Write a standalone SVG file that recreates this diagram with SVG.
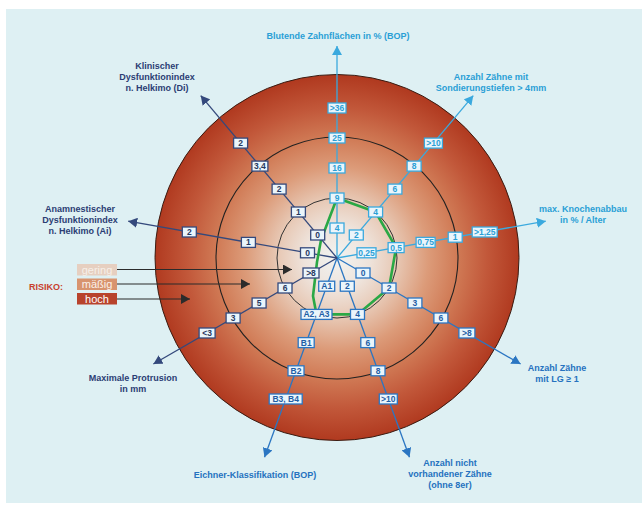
<svg xmlns="http://www.w3.org/2000/svg" width="642" height="507" viewBox="0 0 642 507">
<defs>
<radialGradient id="rg" gradientUnits="userSpaceOnUse" cx="337" cy="258" r="183">
<stop offset="0" stop-color="#f1f3f1"/>
<stop offset="0.18" stop-color="#eee3db"/>
<stop offset="0.33" stop-color="#e7c7b3"/>
<stop offset="0.5" stop-color="#dc9b79"/>
<stop offset="0.66" stop-color="#d07a55"/>
<stop offset="0.82" stop-color="#c2583a"/>
<stop offset="1" stop-color="#b0391f"/>
</radialGradient>
<marker id="mlb" viewBox="0 0 9 10" refX="9" refY="5" markerWidth="9" markerHeight="10" markerUnits="userSpaceOnUse" orient="auto"><path d="M0,0 L9,5 L0,10 z" fill="#3aa9de"/></marker>
<marker id="mmb" viewBox="0 0 9 10" refX="9" refY="5" markerWidth="9" markerHeight="10" markerUnits="userSpaceOnUse" orient="auto"><path d="M0,0 L9,5 L0,10 z" fill="#2b76c2"/></marker>
<marker id="mnv" viewBox="0 0 9 10" refX="9" refY="5" markerWidth="9" markerHeight="10" markerUnits="userSpaceOnUse" orient="auto"><path d="M0,0 L9,5 L0,10 z" fill="#34497c"/></marker>
<marker id="mdk" viewBox="0 0 9 10" refX="9" refY="5" markerWidth="9" markerHeight="10" markerUnits="userSpaceOnUse" orient="auto"><path d="M0,0 L9,5 L0,10 z" fill="#2b2b2b"/></marker>
</defs>
<style>
.t{font-family:"Liberation Sans",Arial,sans-serif;font-weight:bold;font-size:9px;text-anchor:middle}
.tlb{fill:#2a9fd6}.tmb{fill:#2572bf}.tnv{fill:#2b3d73}
.ax{stroke-width:1.3;fill:none}
.alb{stroke:#3aa9de;marker-end:url(#mlb)}
.amb{stroke:#2b76c2;marker-end:url(#mmb)}
.anv{stroke:#34497c;marker-end:url(#mnv)}
.adk{stroke:#2b2b2b;stroke-width:1.1;marker-end:url(#mdk)}
.b rect{fill:#eaf5fb;stroke-width:1.3}
.b text{font-family:"Liberation Sans",Arial,sans-serif;font-weight:bold;font-size:8.5px;text-anchor:middle}
.blb rect{stroke:#3aa9de}.blb text{fill:#2a9fd6}
.bmb rect{stroke:#2b76c2}.bmb text{fill:#1f5ea6}
.bnv rect{stroke:#34497c}.bnv text{fill:#26385f}
.leg text{font-family:"Liberation Sans",Arial,sans-serif;font-size:11px;text-anchor:middle}
</style>
<rect x="0" y="0" width="642" height="507" fill="#ffffff"/>
<rect x="6" y="9" width="636" height="494" fill="#def0f3"/>
<g id="chart">
<ellipse cx="337" cy="257.5" rx="182" ry="183" fill="url(#rg)" stroke="#3a1c12" stroke-width="1"/>
<circle cx="337" cy="258" r="121" fill="none" stroke="#222" stroke-width="1.1"/>
<circle cx="337" cy="258" r="60" fill="none" stroke="#333" stroke-width="1"/>
</g>
<g id="connectors">
<line class="ax adk" x1="117" y1="269.5" x2="292" y2="269.5"/>
<line class="ax adk" x1="117" y1="284" x2="250" y2="284"/>
<line class="ax adk" x1="117" y1="299" x2="190" y2="299"/>
<line class="ax alb" x1="337" y1="258" x2="337" y2="46"/>
<line class="ax alb" x1="337" y1="258" x2="473.3" y2="95.6"/>
<line class="ax alb" x1="337" y1="258" x2="545.8" y2="221.2"/>
<line class="ax amb" x1="337" y1="258" x2="520.6" y2="364"/>
<line class="ax amb" x1="337" y1="258" x2="409.5" y2="457.2"/>
<line class="ax amb" x1="337" y1="258" x2="264.5" y2="457.2"/>
<line class="ax anv" x1="337" y1="258" x2="153.4" y2="364"/>
<line class="ax anv" x1="337" y1="258" x2="128.2" y2="221.2"/>
<line class="ax anv" x1="337" y1="258" x2="200.7" y2="95.6"/>
<polygon id="profile" points="337,198 375.6,212 396.1,247.6 389,288 357.5,314.4 316.5,314.4 313,296 317,262 321,240" fill="none" stroke="#2aa845" stroke-width="2.6" stroke-linejoin="round"/>
</g>
<g id="legend" class="leg">
<text x="46" y="290" class="t" style="fill:#c8402e;font-size:9px;font-weight:bold">RISIKO:</text>
<g id="leg-gering"><rect x="77" y="264" width="40" height="11.5" fill="#e6cfc0"/><text x="97" y="273.5" fill="#f6efe9">gering</text></g>
<g id="leg-maessig"><rect x="77" y="278.5" width="40" height="11.5" fill="#d8946f"/><text x="97" y="288" fill="#fbf1ea">mäßig</text></g>
<g id="leg-hoch"><rect x="77" y="293" width="40" height="11.5" fill="#b8432c"/><text x="97" y="302.5" fill="#ffffff">hoch</text></g>
</g>
<g id="axis-bop">
<g id="bop-4" class="b blb"><rect x="330" y="223" width="14" height="10"/><text x="337" y="231">4</text></g>
<g id="bop-9" class="b blb"><rect x="330" y="193" width="14" height="10"/><text x="337" y="201">9</text></g>
<g id="bop-16" class="b blb"><rect x="329" y="163" width="16" height="10"/><text x="337" y="171">16</text></g>
<g id="bop-25" class="b blb"><rect x="329" y="133" width="16" height="10"/><text x="337" y="141">25</text></g>
<g id="bop-36" class="b blb"><rect x="328" y="103" width="18" height="10"/><text x="337" y="111">&gt;36</text></g>
<g id="lbl-bop"><text class="t tlb" x="338" y="38.5">Blutende Zahnflächen in % (BOP)</text></g>
</g>
<g id="axis-st">
<g id="st-2" class="b blb"><rect x="349.3" y="230" width="14" height="10"/><text x="356.3" y="238">2</text></g>
<g id="st-4" class="b blb"><rect x="368.6" y="207" width="14" height="10"/><text x="375.6" y="215">4</text></g>
<g id="st-6" class="b blb"><rect x="387.9" y="184.1" width="14" height="10"/><text x="394.9" y="192.1">6</text></g>
<g id="st-8" class="b blb"><rect x="407.1" y="161.1" width="14" height="10"/><text x="414.1" y="169.1">8</text></g>
<g id="st-10" class="b blb"><rect x="424.4" y="138.1" width="18" height="10"/><text x="433.4" y="146.1">&gt;10</text></g>
<g id="lbl-st"><text class="t tlb" x="491" y="80">Anzahl Zähne mit</text><text class="t tlb" x="491" y="91">Sondierungstiefen &gt; 4mm</text></g>
</g>
<g id="axis-kn">
<g id="kn-025" class="b blb"><rect x="357" y="247.8" width="19" height="10"/><text x="366.5" y="255.8">0,25</text></g>
<g id="kn-05" class="b blb"><rect x="388.1" y="242.6" width="16" height="10"/><text x="396.1" y="250.6">0,5</text></g>
<g id="kn-075" class="b blb"><rect x="416.1" y="237.4" width="19" height="10"/><text x="425.6" y="245.4">0,75</text></g>
<g id="kn-1" class="b blb"><rect x="448.2" y="232.2" width="14" height="10"/><text x="455.2" y="240.2">1</text></g>
<g id="kn-125" class="b blb"><rect x="472.2" y="227" width="25" height="10"/><text x="484.7" y="235">&gt;1,25</text></g>
<g id="lbl-kn"><text class="t tlb" x="583" y="212">max. Knochenabbau</text><text class="t tlb" x="583" y="223">in % / Alter</text></g>
</g>
<g id="axis-lg">
<g id="lg-0" class="b bmb"><rect x="356" y="268" width="14" height="10"/><text x="363" y="276">0</text></g>
<g id="lg-2" class="b bmb"><rect x="382" y="283" width="14" height="10"/><text x="389" y="291">2</text></g>
<g id="lg-3" class="b bmb"><rect x="407.9" y="298" width="14" height="10"/><text x="414.9" y="306">3</text></g>
<g id="lg-6" class="b bmb"><rect x="433.9" y="313" width="14" height="10"/><text x="440.9" y="321">6</text></g>
<g id="lg-8" class="b bmb"><rect x="458.9" y="328" width="16" height="10"/><text x="466.9" y="336">&gt;8</text></g>
<g id="lbl-lg"><text class="t tmb" x="557" y="371">Anzahl Zähne</text><text class="t tmb" x="557" y="382">mit LG ≥ 1</text></g>
</g>
<g id="axis-nv">
<g id="nv-2" class="b bmb"><rect x="340.3" y="281.2" width="14" height="10"/><text x="347.3" y="289.2">2</text></g>
<g id="nv-4" class="b bmb"><rect x="350.5" y="309.4" width="14" height="10"/><text x="357.5" y="317.4">4</text></g>
<g id="nv-6" class="b bmb"><rect x="360.8" y="337.6" width="14" height="10"/><text x="367.8" y="345.6">6</text></g>
<g id="nv-8" class="b bmb"><rect x="371" y="365.8" width="14" height="10"/><text x="378" y="373.8">8</text></g>
<g id="nv-10" class="b bmb"><rect x="379.3" y="394" width="18" height="10"/><text x="388.3" y="402">&gt;10</text></g>
<g id="lbl-nv"><text class="t tmb" x="450" y="466">Anzahl nicht</text><text class="t tmb" x="450" y="477">vorhandener Zähne</text><text class="t tmb" x="450" y="488">(ohne 8er)</text></g>
</g>
<g id="axis-ek">
<g id="ek-a1" class="b bmb"><rect x="318.7" y="281.2" width="16" height="10"/><text x="326.7" y="289.2">A1</text></g>
<g id="ek-a23" class="b bmb"><rect x="301" y="309.4" width="31" height="10"/><text x="316.5" y="317.4">A2, A3</text></g>
<g id="ek-b1" class="b bmb"><rect x="298.2" y="337.6" width="16" height="10"/><text x="306.2" y="345.6">B1</text></g>
<g id="ek-b2" class="b bmb"><rect x="288" y="365.8" width="16" height="10"/><text x="296" y="373.8">B2</text></g>
<g id="ek-b34" class="b bmb"><rect x="269.2" y="394" width="33" height="10"/><text x="285.7" y="402">B3, B4</text></g>
<g id="lbl-ek"><text class="t tmb" x="255" y="477.5">Eichner-Klassifikation (BOP)</text></g>
</g>
<g id="axis-pr">
<g id="pr-8" class="b bnv"><rect x="303" y="268" width="16" height="10"/><text x="311" y="276">&gt;8</text></g>
<g id="pr-6" class="b bnv"><rect x="278" y="283" width="14" height="10"/><text x="285" y="291">6</text></g>
<g id="pr-5" class="b bnv"><rect x="252.1" y="298" width="14" height="10"/><text x="259.1" y="306">5</text></g>
<g id="pr-3" class="b bnv"><rect x="226.1" y="313" width="14" height="10"/><text x="233.1" y="321">3</text></g>
<g id="pr-lt3" class="b bnv"><rect x="199.1" y="328" width="16" height="10"/><text x="207.1" y="336">&lt;3</text></g>
<g id="lbl-pr"><text class="t tnv" x="133" y="381">Maximale Protrusion</text><text class="t tnv" x="133" y="392">in mm</text></g>
</g>
<g id="axis-ai">
<g id="ai-0" class="b bnv"><rect x="300.5" y="247.8" width="14" height="10"/><text x="307.5" y="255.8">0</text></g>
<g id="ai-1" class="b bnv"><rect x="241.4" y="237.4" width="14" height="10"/><text x="248.4" y="245.4">1</text></g>
<g id="ai-2" class="b bnv"><rect x="182.3" y="227" width="14" height="10"/><text x="189.3" y="235">2</text></g>
<g id="lbl-ai"><text class="t tnv" x="80" y="212">Anamnestischer</text><text class="t tnv" x="80" y="223">Dysfunktionindex</text><text class="t tnv" x="80" y="234">n. Helkimo (Ai)</text></g>
</g>
<g id="axis-di">
<g id="di-0" class="b bnv"><rect x="310.7" y="230" width="14" height="10"/><text x="317.7" y="238">0</text></g>
<g id="di-1" class="b bnv"><rect x="291.4" y="207" width="14" height="10"/><text x="298.4" y="215">1</text></g>
<g id="di-2" class="b bnv"><rect x="272.1" y="184.1" width="14" height="10"/><text x="279.1" y="192.1">2</text></g>
<g id="di-34" class="b bnv"><rect x="251.9" y="161.1" width="16" height="10"/><text x="259.9" y="169.1">3,4</text></g>
<g id="di-2b" class="b bnv"><rect x="233.6" y="138.1" width="14" height="10"/><text x="240.6" y="146.1">2</text></g>
<g id="lbl-di"><text class="t tnv" x="157" y="69">Klinischer</text><text class="t tnv" x="157" y="80">Dysfunktionindex</text><text class="t tnv" x="157" y="91">n. Helkimo (Di)</text></g>
</g>
</svg>
